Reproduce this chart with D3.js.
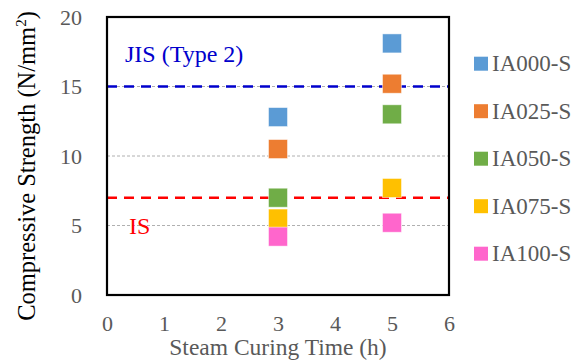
<!DOCTYPE html>
<html>
<head>
<style>
body { margin: 0; background: #fff; }
svg text { font-family: "Liberation Serif", "Times New Roman", serif; }
</style>
</head>
<body>
<script src="https://cdnjs.cloudflare.com/ajax/libs/d3/7.8.5/d3.min.js"></script>
<script>
const seriesNames = ["IA000-S", "IA025-S", "IA050-S", "IA075-S", "IA100-S"];
const seriesColors = ["#5B9BD5", "#ED7D31", "#70AD47", "#FFC000", "#FF66CC"];
const curingTimes = [3, 5];
const IA000 = [12.8, 18.1];
const IA025 = [10.5, 15.2];
const IA050 = [7.0, 13.0];
const IA075 = [5.5, 7.7];
const IA100 = [4.2, 5.2];
const xTicks = [0, 1, 2, 3, 4, 5, 6];
const yTicks = [0, 5, 10, 15, 20];
const jisLimit = 15;
const isLimit = 7;

const allSeries = [IA000, IA025, IA050, IA075, IA100];

const w = 581, h = 361;
const m = {left: 107, right: 132, top: 17, bottom: 66};
const svg = d3.select("body").append("svg").attr("width", w).attr("height", h);

const x = d3.scaleLinear().domain([0, 6]).range([m.left, w - m.right]);
const y = d3.scaleLinear().domain([0, 20]).range([h - m.bottom, m.top]);

// gridlines
svg.append("g").selectAll("line")
  .data(yTicks.filter(d => d > 0 && d < 20))
  .enter().append("line")
  .attr("x1", x(0)).attr("x2", x(6))
  .attr("y1", d => y(d)).attr("y2", d => y(d))
  .attr("stroke", "#b0b0b0").attr("stroke-width", 1).attr("stroke-dasharray", "3,2");

// limit lines
svg.append("line")
  .attr("x1", x(0)).attr("x2", x(6)).attr("y1", y(jisLimit)).attr("y2", y(jisLimit))
  .attr("stroke", "#0000cc").attr("stroke-width", 2.5).attr("stroke-dasharray", "10,7");
svg.append("line")
  .attr("x1", x(0)).attr("x2", x(6)).attr("y1", y(isLimit)).attr("y2", y(isLimit))
  .attr("stroke", "#ff0000").attr("stroke-width", 2.5).attr("stroke-dasharray", "10,7");

svg.append("text").attr("x", 125).attr("y", 62)
  .attr("fill", "#0000cc").attr("font-size", 24).text("JIS (Type 2)");
svg.append("text").attr("x", 129).attr("y", 234)
  .attr("fill", "#ff0000").attr("font-size", 24).text("IS");

// points
const sz = 19;
allSeries.forEach((s, i) => {
  svg.append("g").selectAll("rect")
    .data(s)
    .enter().append("rect")
    .attr("x", (d, j) => x(curingTimes[j]) - sz / 2)
    .attr("y", d => y(d) - sz / 2)
    .attr("width", sz).attr("height", sz)
    .attr("fill", seriesColors[i])
    .attr("stroke", "#fff").attr("stroke-opacity", 0.6).attr("stroke-width", 0.8);
});

// frame
svg.append("rect")
  .attr("x", x(0)).attr("y", y(20))
  .attr("width", x(6) - x(0)).attr("height", y(0) - y(20))
  .attr("fill", "none").attr("stroke", "#000").attr("stroke-width", 2.2);

// axes
const xAxis = svg.append("g")
  .attr("transform", "translate(0," + y(0) + ")")
  .call(d3.axisBottom(x).tickValues(xTicks).tickFormat(d3.format("d")).tickSize(0).tickPadding(20));
const yAxis = svg.append("g")
  .attr("transform", "translate(" + x(0) + ",0)")
  .call(d3.axisLeft(y).tickValues(yTicks).tickFormat(d3.format("d")).tickSize(0).tickPadding(25));
[xAxis, yAxis].forEach(g => {
  g.select(".domain").remove();
  g.selectAll("text").attr("font-size", 22).attr("fill", "#595959");
});

svg.append("text").attr("x", x(3)).attr("y", 355)
  .attr("text-anchor", "middle").attr("font-size", 23.5).attr("fill", "#595959")
  .text("Steam Curing Time (h)");

const yt = svg.append("text")
  .attr("transform", "translate(35,166) rotate(-90)")
  .attr("text-anchor", "middle").attr("font-size", 24.5).attr("fill", "#000");
yt.append("tspan").text("Compressive Strength (N/mm");
yt.append("tspan").attr("font-size", 15).attr("dy", -9).text("2");
yt.append("tspan").attr("dy", 9).text(")");

// legend
const leg = svg.append("g");
seriesNames.forEach((n, i) => {
  const ly = 63.7 + i * 47.5;
  leg.append("rect").attr("x", 474).attr("y", ly - 7).attr("width", 14).attr("height", 14)
    .attr("fill", seriesColors[i]);
  leg.append("text").attr("x", 492).attr("y", ly + 7.5).attr("font-size", 23)
    .attr("fill", "#595959").text(n);
});
</script>
</body>
</html>
